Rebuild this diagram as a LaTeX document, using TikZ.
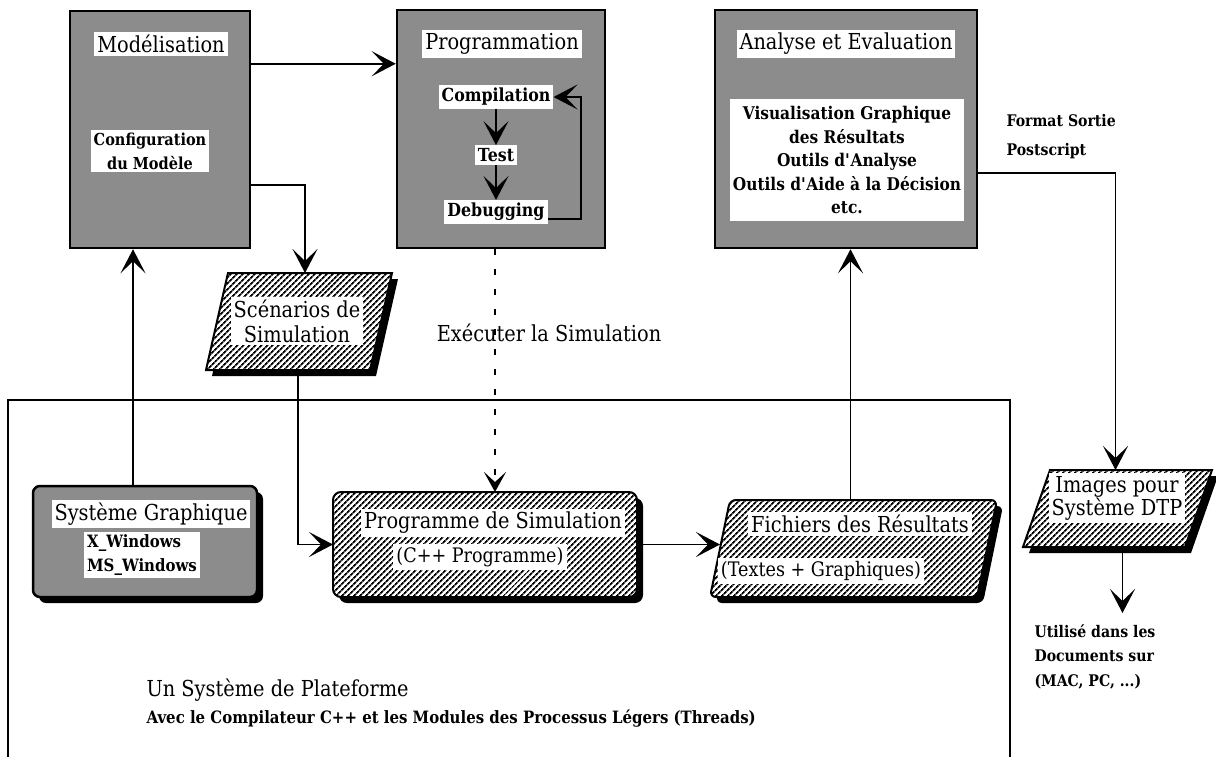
\documentclass[tikz,border=0pt]{standalone}
\usepackage{fontspec}
\setmainfont{DejaVu Serif}[FakeStretch=0.88]
\usetikzlibrary{arrows.meta,calc,patterns.meta}

\tikzset{
  chk/.style={draw, line width=2.5pt, fill=black!45},
  hatch/.style={draw, line width=2pt, preaction={fill=white},
    pattern={Lines[angle=45,distance=4pt,line width=1.8pt]}},
  holder/.style={inner sep=0pt, outer sep=0pt},
  band/.style={fill=white, inner sep=3pt, align=center},
  ttl/.style={font=\fontsize{22}{25}\selectfont},
  bld/.style={font=\bfseries\fontsize{16.5}{24}\selectfont},
  bldl/.style={font=\bfseries\fontsize{17.5}{23.5}\selectfont},
  bldp/.style={font=\bfseries\fontsize{18}{22}\selectfont},
  sub/.style={font=\fontsize{20}{22}\selectfont},
  conn/.style={line width=1.8pt},
  arr/.style={line width=1.8pt, -{Stealth[length=24pt,width=25pt,inset=12pt]}},
  darr/.style={line width=2.6pt, dash pattern=on 6pt off 14pt,
    -{Stealth[length=20pt,width=22pt,inset=10pt]}},
}

% #1 holder node, #2 slant, #3 corner radius, #4 style
\newcommand\pgon[4]{%
  \fill[black, rounded corners=#3] ($(#1.south west)+(6,6)$) -- ($(#1.north west)+(#2+6,6)$)
     -- ($(#1.north east)+(6,6)$) -- ($(#1.south east)+(6-#2,6)$) -- cycle;
  \path[#4, rounded corners=#3] (#1.south west) -- ($(#1.north west)+(#2,0)$)
     -- (#1.north east) -- ($(#1.south east)+(-#2,0)$) -- cycle;
}

\begin{document}
\begin{tikzpicture}[x=1pt,y=-1pt]
\useasboundingbox (0,0) rectangle (1216,756);

% platform frame
\draw[conn] (8,760) -- (8,400) -- (1010,400) -- (1010,760);

% top boxes
\node[chk, minimum width=180pt, minimum height=237pt] (model) at (160,129.5) {};
\node[chk, minimum width=208pt, minimum height=238pt] (prog) at (501,129) {};
\node[chk, minimum width=262pt, minimum height=238pt] (anal) at (846,129) {};

\node[band, ttl] (modt) at (161,44) {Modélisation};
\node[band, bld] (modc) at (150,151) {Configuration\\du Modèle};

\node[band, ttl] (progt) at (502,44) {Programmation};
\node[band, bldp] (comp) at (496,97) {Compilation};
\node[band, bldp] (test) at (496,155) {Test};
\node[band, bldp] (debug) at (496,212) {Debugging};

\node[band, ttl] (analt) at (846,44) {Analyse et Evaluation};
\node[band, bldl, minimum width=225pt, minimum height=122pt] (analc) at (847,160)
  {Visualisation Graphique\\des Résultats\\Outils d\textquotesingle Analyse\\Outils d\textquotesingle Aide à la Décision\\etc.};

\node[align=left, anchor=west, font=\bfseries\fontsize{16}{29}\selectfont] (fmt) at (1003,137) {Format Sortie\\Postscript};

% Scenarios
\node[holder, minimum width=186pt, minimum height=97pt] (scen) at (299,321.5) {};
\pgon{scen}{22}{0pt}{hatch}
\node[band, ttl] (scent) at (297,321) {Scénarios de\\Simulation};

% Systeme graphique
\node[holder, minimum width=224pt, minimum height=111pt] (sysg) at (145,541.5) {};
\pgon{sysg}{0}{7pt}{chk}
\node[band, ttl] (sysgt) at (151,514) {Système Graphique};
\node[band, align=left, font=\bfseries\fontsize{17}{24}\selectfont] (sysgc) at (142,555) {X\_Windows\\MS\_Windows};

% Programme de simulation
\node[holder, minimum width=304pt, minimum height=105pt] (psim) at (485,544.5) {};
\pgon{psim}{0}{8pt}{hatch}
\node[band, ttl] (psimt) at (493,523) {Programme de Simulation};
\node[band, sub] (psimc) at (480,557) {(C++ Programme)};

% Fichiers
\node[holder, minimum width=287pt, minimum height=97pt] (fich) at (853.5,548.5) {};
\pgon{fich}{20}{6pt}{hatch}
\node[band, ttl] (ficht) at (860,524) {Fichiers des Résultats};
\node[band, sub] (fichc) at (821,571) {(Textes + Graphiques)};

% Images
\node[holder, minimum width=189pt, minimum height=77pt] (img) at (1117.5,508.5) {};
\pgon{img}{27}{0pt}{hatch}
\node[band, ttl, font=\fontsize{22}{23}\selectfont] (imgt) at (1117,498) {Images pour\\Système DTP};

% free labels
\node[ttl] (exec) at (549,333) {Exécuter la Simulation};
\node[ttl, anchor=west] (plat) at (143,690) {Un Système de Plateforme};
\node[anchor=west, font=\bfseries\fontsize{17}{20}\selectfont] (platc) at (143,719) {Avec le Compilateur C++ et les Modules des Processus Légers (Threads)};
\node[align=left, anchor=north west, font=\bfseries\fontsize{16}{24.5}\selectfont] (use) at (1031,621) {Utilisé dans les\\Documents sur\\(MAC, PC, ...)};

% connectors
\coordinate (m1) at ([yshift=-54pt]model.north east);
\draw[arr] (m1) -- (m1 -| prog.west);

\coordinate (m2) at ([yshift=-175pt]model.north east);
\coordinate (s1) at ([xshift=6pt]scen.north);
\draw[arr] (m2) -| (s1);

\coordinate (g1) at ([xshift=-12pt]sysg.north);
\draw[arr] (g1) -- (g1 |- model.south);

\coordinate (s2) at ([xshift=-1pt]scen.south);
\draw[arr] (s2) |- (psim.west);

\coordinate (p1) at ([xshift=-6pt]prog.south);
\draw[darr] (p1) -- (p1 |- psim.north);

\coordinate (f1) at ([xshift=10pt]fich.west);
\draw[arr] (psim.east) -- (psim.east -| f1);

\coordinate (f2) at ([xshift=-3pt]fich.north);
\draw[arr] (f2) -- (f2 |- anal.south);

\coordinate (a1) at ([yshift=-164pt]anal.north east);
\coordinate (i1) at ([xshift=-2pt]img.north);
\draw[arr] (a1) -| (i1);

\coordinate (i2) at ([xshift=5pt]img.south);
\coordinate (usetop) at ([yshift=-66pt]i2);
\draw[arr] (i2) -- (usetop);

% programmation internal flow
\draw[arr] (comp) -- (test);
\draw[arr] (test) -- (debug);
\coordinate (dl) at ([yshift=-7pt]debug.east);
\coordinate (lp) at ($(prog.north east)+(-25,0)$);
\draw[arr] (dl) -- (dl -| lp) -- (lp |- comp.east) -- (comp.east);
\end{tikzpicture}
\end{document}
